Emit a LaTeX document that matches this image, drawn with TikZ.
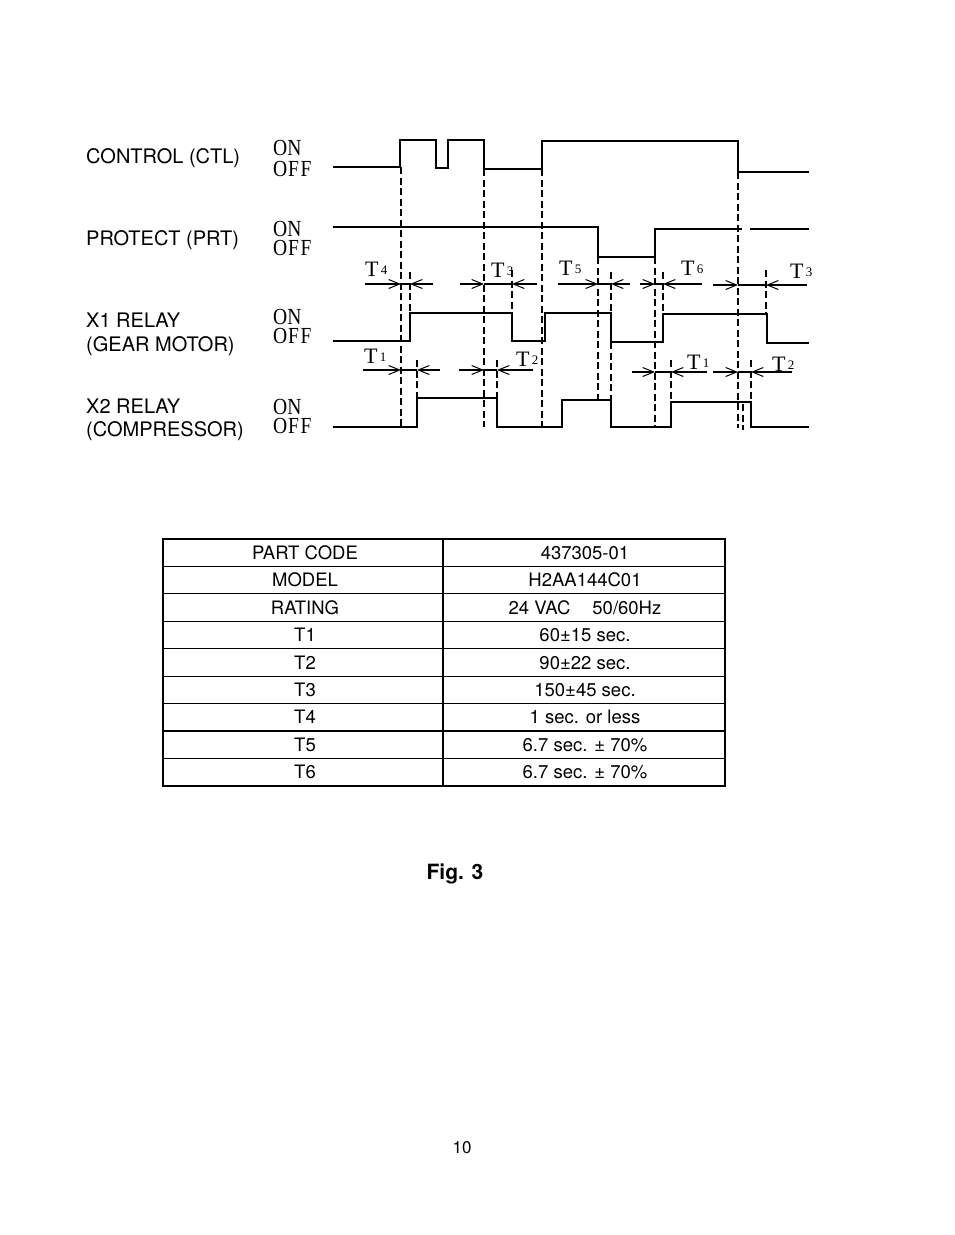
\documentclass[tikz,border=0pt]{standalone}
\usepackage{fontspec}
\setmainfont{TeX Gyre Heros}
\newfontfamily\minchofont{Liberation Serif}
\usetikzlibrary{arrows.meta}
\newcommand\oo[1]{\scalebox{0.85}[1]{#1}}
\newcommand\ts[1]{\raisebox{1.5pt}{\fontsize{13}{13}\selectfont\,#1}}
\begin{document}
\begin{tikzpicture}[x=1pt,y=-1pt,
  sig/.style={line width=1.8pt, line join=miter},
  vdash/.style={line width=1.1pt, dash pattern=on 7pt off 3.5pt},
  dimarr/.style={line width=1.1pt, -{Straight Barb[length=11pt,width=9pt,line width=1pt]}},
  dimln/.style={line width=1.1pt},
  lab/.style={font=\fontsize{20}{20}\selectfont, anchor=base west, inner sep=0pt},
  ooff/.style={font=\minchofont\fontsize{23}{19}\selectfont, anchor=base west, inner sep=0pt, align=left},
  tl/.style={font=\minchofont\fontsize{22}{22}\selectfont, anchor=base west, inner sep=0pt},
  cell/.style={font=\fontsize{18.5}{18.5}\selectfont, anchor=base, inner sep=0pt},
]
\useasboundingbox (0,0) rectangle (954,1235);

% left labels
\node[lab] (lctl) at (86,163) {CONTROL (CTL)};
\node[lab] (lprt) at (86,245) {PROTECT (PRT)};
\node[lab] (lx1a) at (86,327) {X1 RELAY};
\node[lab] (lx1b) at (86,351) {(GEAR MOTOR)};
\node[lab] (lx2a) at (86,413) {X2 RELAY};
\node[lab] (lx2b) at (86,436) {(COMPRESSOR)};

% ON / OFF (anchor is the baseline of the last line)
\node[ooff, font=\minchofont\fontsize{23}{21}\selectfont] (oo1) at (273,176) {\oo{ON}\\\oo{O\hspace{1pt}F\hspace{2pt}F}};
\node[ooff] (oo2) at (273,255) {\oo{ON}\\\oo{O\hspace{1pt}F\hspace{2pt}F}};
\node[ooff] (oo3) at (273,343) {\oo{ON}\\\oo{O\hspace{1pt}F\hspace{2pt}F}};
\node[ooff] (oo4) at (273,433) {\oo{ON}\\\oo{O\hspace{1pt}F\hspace{2pt}F}};

% signals
\draw[sig] (333,167) -- (400,167) -- (400,140) -- (436,140) -- (436,168) -- (448,168) -- (448,140) -- (484,140) -- (484,169) -- (542,169) -- (542,141) -- (738,141) -- (738,172) -- (809,172);
\draw[sig] (333,227) -- (598,227) -- (598,257) -- (655,257) -- (655,229) -- (742,229);
\draw[sig] (750,229) -- (809,229);
\draw[sig] (333,341) -- (410,341) -- (410,313) -- (512,313) -- (512,341) -- (545,341) -- (545,313) -- (611,313) -- (611,342) -- (663,342) -- (663,314) -- (767,314) -- (767,343) -- (809,343);
\draw[sig] (333,427) -- (417,427) -- (417,398) -- (497,398) -- (497,427) -- (562,427) -- (562,400) -- (611,400) -- (611,427) -- (671,427) -- (671,402) -- (751,402) -- (751,427) -- (809,427);

% dashed verticals
\draw[vdash] (401,167) -- (401,427);
\draw[vdash] (410,272) -- (410,313);
\draw[vdash] (417,360) -- (417,398);
\draw[vdash] (484,169) -- (484,427);
\draw[vdash] (497,360) -- (497,398);
\draw[vdash] (512,270) -- (512,313);
\draw[vdash] (542,169) -- (542,427);
\draw[vdash] (598,257) -- (598,400);
\draw[vdash] (611,272) -- (611,313);
\draw[vdash] (611,342) -- (611,400);
\draw[vdash] (655,257) -- (655,427);
\draw[vdash] (663,272) -- (663,314);
\draw[vdash] (671,360) -- (671,402);
\draw[vdash] (738,172) -- (738,428);
\draw[vdash] (743,404) -- (743,430);
\draw[vdash] (751,360) -- (751,402);
\draw[vdash] (766,270) -- (766,314);

% dimension arrows, upper row
\draw[dimarr] (365,284) -- (401,284);
\draw[dimln] (401,284) -- (410,284);
\draw[dimarr] (433,284) -- (410,284);
\draw[dimarr] (460,284) -- (484,284);
\draw[dimln] (484,284) -- (512,284);
\draw[dimarr] (537,284) -- (512,284);
\draw[dimarr] (558,284) -- (598,284);
\draw[dimln] (598,284) -- (611,284);
\draw[dimarr] (630,284) -- (611,284);
\draw[dimarr] (640,284) -- (655,284);
\draw[dimln] (655,284) -- (663,284);
\draw[dimarr] (702,284) -- (663,284);
\draw[dimarr] (713,285) -- (738,285);
\draw[dimln] (738,285) -- (766,285);
\draw[dimarr] (807,285) -- (766,285);

% dimension arrows, lower row
\draw[dimarr] (363,370) -- (401,370);
\draw[dimln] (401,370) -- (417,370);
\draw[dimarr] (440,370) -- (417,370);
\draw[dimarr] (459,370) -- (484,370);
\draw[dimln] (484,370) -- (497,370);
\draw[dimarr] (533,370) -- (497,370);
\draw[dimarr] (632,372) -- (655,372);
\draw[dimln] (655,372) -- (671,372);
\draw[dimarr] (707,372) -- (671,372);
\draw[dimarr] (713,372) -- (738,372);
\draw[dimln] (738,372) -- (751,372);
\draw[dimarr] (792,372) -- (751,372);

% T labels
\node[tl] (t4) at (365,276) {T\ts{4}};
\node[tl] (t3a) at (491,277) {T\ts{3}};
\node[tl] (t5) at (559,275) {T\ts{5}};
\node[tl] (t6) at (681,275) {T\ts{6}};
\node[tl] (t3b) at (790,278) {T\ts{3}};
\node[tl] (t1a) at (364,363) {T\ts{1}};
\node[tl] (t2a) at (516,366) {T\ts{2}};
\node[tl] (t1b) at (687,369) {T\ts{1}};
\node[tl] (t2b) at (772,371) {T\ts{2}};

% table
\draw[line width=1.2pt] (163,539) rectangle (725,786);
\draw[line width=1.2pt] (443,539) -- (443,786);
\foreach \k in {1,...,8} \draw[line width=1.2pt] (163,{539+27.44*\k}) -- (725,{539+27.44*\k});
\foreach \lt/\rt [count=\i from 0] in {PART CODE/437305-01, MODEL/H2AA144C01, RATING/{24 VAC\hspace{22pt}50/60Hz}, T1/60±15 sec., T2/90±22 sec., T3/150±45 sec., T4/1 sec. or less, T5/6.7 sec. ± 70\%, T6/6.7 sec. ± 70\%}{
  \node[cell] (L\i) at (305,{539+27.44*(\i+0.5)+6.6}) {\lt};
  \node[cell] (R\i) at (585,{539+27.44*(\i+0.5)+6.6}) {\rt};
}

\node[font=\bfseries\fontsize{21}{21}\selectfont, anchor=base, inner sep=0pt] (fig) at (455,879) {Fig. 3};
\node[font=\fontsize{17}{17}\selectfont, anchor=base, inner sep=0pt] (pg) at (462,1153) {10};
\end{tikzpicture}
\end{document}
